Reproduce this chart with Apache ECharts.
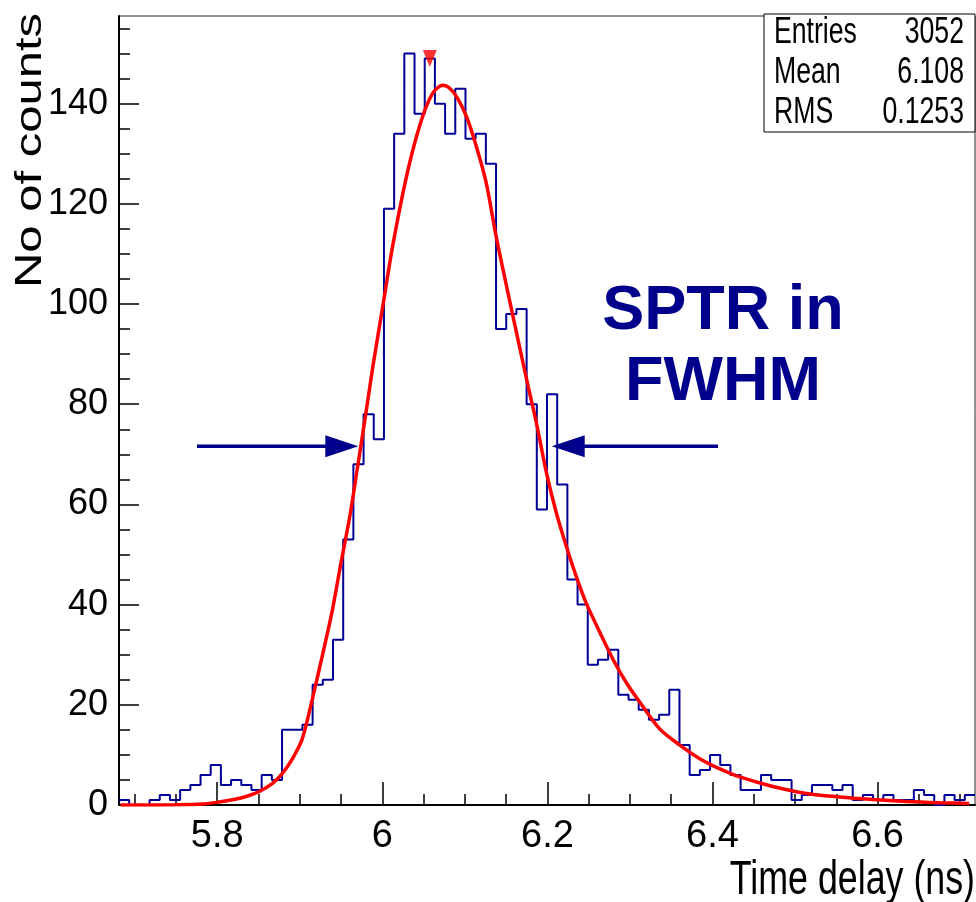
<!DOCTYPE html>
<html><head><meta charset="utf-8">
<script src="https://cdn.jsdelivr.net/npm/echarts@6/dist/echarts.min.js"></script>
<style>html,body{margin:0;padding:0;background:#fff}#c{width:976px;height:902px}</style>
</head><body><div id="c"></div>
<script>
// ---- axis ranges ----
const xMin = 5.681, xMax = 6.718;
const yMin = 0, yMax = 157.5;
// ---- histogram ----
const binLow = 5.681;
const binWidth = 0.0123452;
const counts = [1,0,0,1,2,1,3,4,6,8,4,5,4,3,6,5,15,15,16,24,25,33,53,68,78,73,119,134,150,138,149,140,134,143,133,134,128,95,98,99,80,59,82,64,45,40,28,29,31,22,21,19,17,18,23,12,6,7,10,8,6,3,3,6,5,5,1,2,4,4,3,4,1,2,1,2,1,1,3,2,0,2,1,2];
// ---- fit curve ----
const fitX = [5.683,5.75,5.782,5.802,5.82,5.835,5.851,5.867,5.879,5.891,5.903,5.915,5.929,5.939,5.949,5.961,5.971,5.979,5.989,6.001,6.013,6.030,6.046,6.060,6.073,6.080,6.090,6.102,6.114,6.126,6.138,6.155,6.175,6.187,6.199,6.211,6.223,6.235,6.247,6.264,6.280,6.296,6.312,6.336,6.360,6.384,6.409,6.433,6.473,6.514,6.554,6.594,6.635,6.675,6.711];
const fitY = [0.0,0.05,0.2,0.6,1.1,1.7,2.7,4.3,6.3,9.2,13.2,21,31,38.5,47.5,58,68.5,77,88,100,112,126,136,141.8,143.7,143.3,141.4,137.4,131.4,124.1,113.4,100.1,84.8,76,66.2,58.2,51.6,45.6,40.3,34.3,28.9,24.3,20.5,15.2,12.0,9.3,7.2,5.6,3.7,2.3,1.6,1.1,0.7,0.45,0.3];
// ---- ticks ----
const xMajorTicks = [5.8, 6.0, 6.2, 6.4, 6.6];
const xTickLabels = ['5.8', '6', '6.2', '6.4', '6.6'];
const xMinorTicks = [5.7,5.75,5.85,5.9,5.95,6.05,6.1,6.15,6.25,6.3,6.35,6.45,6.5,6.55,6.65,6.7];
const yMajorTicks = [0,20,40,60,80,100,120,140];
const yTickLabels = ['0','20','40','60','80','100','120','140'];
const yMinorTicks = [5,10,15,25,30,35,45,50,55,65,70,75,85,90,95,105,110,115,125,130,135,145,150,155];
// ---- annotations ----
const peakBin = 30;
const halfMax = 71.6;
const arrowTails = [5.7755, 6.4067];
const arrowTips = [5.9709, 6.2052];
const statsNames = ['Entries', 'Mean', 'RMS'];
const statsValues = ['3052', '6.108', '0.1253'];
const xTitle = 'Time delay (ns)';
const yTitle = 'No of counts';
const noteLines = ['SPTR in', 'FWHM'];

const histPts = [];
counts.forEach((c, i) => {
  const x0 = binLow + i * binWidth;
  histPts.push([x0, c], [x0 + binWidth, c]);
});
const fitPts = fitX.map((x, i) => [x, fitY[i]]);
const peakPt = [[binLow + (peakBin + 0.5) * binWidth, counts[peakBin]]];
const arrowData = arrowTails.map((t, i) => [t, halfMax, arrowTips[i], halfMax]);

const sans = "'Liberation Sans',Arial,Helvetica,sans-serif";
const navy = '#00008c';

const chart = echarts.init(document.getElementById('c'), null, {renderer: 'canvas'});
const baseX = {type: 'value', min: xMin, max: xMax, position: 'bottom', splitLine: {show: false}};
const baseY = {type: 'value', min: yMin, max: yMax, position: 'left', splitLine: {show: false}};
chart.setOption({
  animation: false,
  backgroundColor: '#fff',
  grid: {left: 119, right: 1, top: 16, bottom: 97, show: true, borderColor: '#222', borderWidth: 1, containLabel: false, outerBoundsMode: 'none'},
  xAxis: [
    Object.assign({}, baseX, {
      axisLine: {show: true, onZero: false, lineStyle: {color: '#000', width: 2}},
      axisTick: {show: true, inside: true, length: 23, customValues: xMajorTicks, lineStyle: {color: '#000', width: 1.5}},
      axisLabel: {show: true, customValues: xMajorTicks, margin: 13, color: '#000', fontFamily: sans, fontSize: 38,
        formatter: v => { const k = xMajorTicks.findIndex(t => Math.abs(t - v) < 1e-6); return k >= 0 ? xTickLabels[k] : ''; }}
    }),
    Object.assign({}, baseX, {
      axisLine: {show: false, onZero: false},
      axisTick: {show: true, inside: true, length: 11, customValues: xMinorTicks, lineStyle: {color: '#000', width: 1.5}},
      axisLabel: {show: false}
    })
  ],
  yAxis: [
    Object.assign({}, baseY, {
      axisLine: {show: true, onZero: false, lineStyle: {color: '#000', width: 2}},
      axisTick: {show: true, inside: true, length: 20, customValues: yMajorTicks, lineStyle: {color: '#000', width: 1.5}},
      axisLabel: {show: true, customValues: yMajorTicks, margin: 11, color: '#000', fontFamily: sans, fontSize: 36,
        formatter: v => { const k = yMajorTicks.findIndex(t => Math.abs(t - v) < 1e-6); return k >= 0 ? yTickLabels[k] : ''; }}
    }),
    Object.assign({}, baseY, {
      axisLine: {show: false, onZero: false},
      axisTick: {show: true, inside: true, length: 11, customValues: yMinorTicks, lineStyle: {color: '#000', width: 1.5}},
      axisLabel: {show: false}
    })
  ],
  series: [
    {type: 'line', name: 'hist', data: histPts, showSymbol: false, symbol: 'none', lineStyle: {color: '#000099', width: 2}, z: 3},
    {type: 'line', name: 'fit', data: fitPts, smooth: 0.3, showSymbol: false, symbol: 'none', lineStyle: {color: '#ff0000', width: 3.5}, z: 4},
    {type: 'scatter', name: 'peak', data: peakPt, symbol: 'path://M0,0L2,0L1,2Z', symbolSize: [14, 17], itemStyle: {color: '#ff0000'}, z: 5},
    {type: 'custom', name: 'fwhm', data: arrowData, encode: {x: [0, 2], y: [1, 3]}, clip: false, z: 6,
      renderItem: (params, api) => {
        const p0 = api.coord([api.value(0), api.value(1)]);
        const p1 = api.coord([api.value(2), api.value(3)]);
        const dir = Math.sign(p1[0] - p0[0]);
        const headLen = 33, halfW = 11;
        const bx = p1[0] - dir * headLen;
        return {type: 'group', children: [
          {type: 'line', shape: {x1: p0[0], y1: p0[1], x2: bx + dir * 2, y2: p1[1]}, style: {stroke: navy, lineWidth: 3.5}},
          {type: 'polygon', shape: {points: [[p1[0], p1[1]], [bx, p1[1] - halfW], [bx, p1[1] + halfW]]}, style: {fill: navy}}
        ]};
      }}
  ],
  graphic: [
    {type: 'text', x: 31, y: 13, rotation: Math.PI / 2, scaleY: 0.74,
      style: {text: yTitle, font: '49px ' + sans, fill: '#000', align: 'right', verticalAlign: 'middle'}},
    {type: 'text', x: 975, y: 880, scaleX: 0.73,
      style: {text: xTitle, font: '49px ' + sans, fill: '#000', align: 'right', verticalAlign: 'middle'}},
    {type: 'rect', shape: {x: 764, y: 14, width: 211, height: 118}, style: {fill: '#fff', stroke: '#000', lineWidth: 1}, z: 10},
    ...statsNames.map((n, i) => ({type: 'text', x: 774, y: 33 + i * 40, scaleX: 0.74, z: 11,
      style: {text: n, font: '36px ' + sans, fill: '#000', align: 'left', verticalAlign: 'middle'}})),
    ...statsValues.map((v, i) => ({type: 'text', x: 964, y: 33 + i * 40, scaleX: 0.74, z: 11,
      style: {text: v, font: '36px ' + sans, fill: '#000', align: 'right', verticalAlign: 'middle'}})),
    ...noteLines.map((t, i) => ({type: 'text', x: 723, y: 312 + i * 71, z: 11,
      style: {text: t, font: 'bold 63px ' + sans, fill: navy, align: 'center', verticalAlign: 'middle'}}))
  ]
});
</script></body></html>
